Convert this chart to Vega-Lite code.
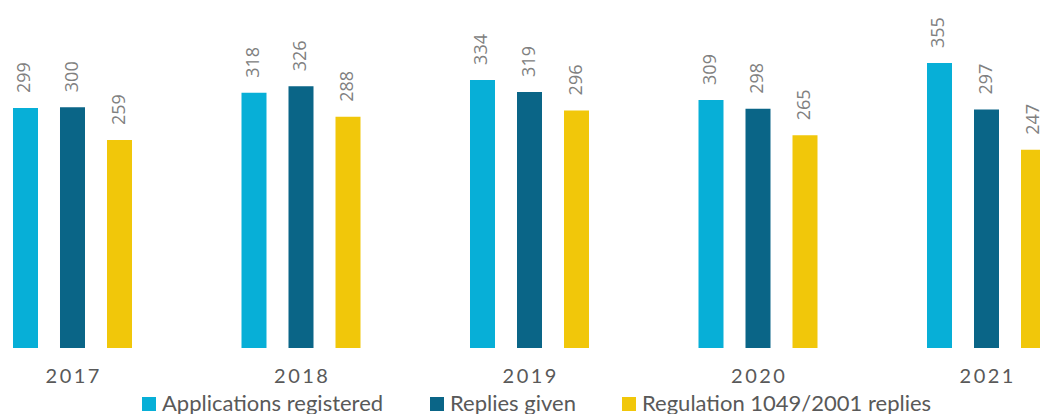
{
  "$schema": "https://vega.github.io/schema/vega-lite/v6.json",
  "width": 1040,
  "height": 348,
  "autosize": {"type": "none"},
  "padding": {"left": 0, "top": 0, "right": 0, "bottom": 66},
  "background": "white",
  "config": {"view": {"stroke": null}},
  "data": {
    "values": [
      {"year": "2017", "series": "Applications registered", "value": 299},
      {"year": "2017", "series": "Replies given", "value": 300},
      {"year": "2017", "series": "Regulation 1049/2001 replies", "value": 259},
      {"year": "2018", "series": "Applications registered", "value": 318},
      {"year": "2018", "series": "Replies given", "value": 326},
      {"year": "2018", "series": "Regulation 1049/2001 replies", "value": 288},
      {"year": "2019", "series": "Applications registered", "value": 334},
      {"year": "2019", "series": "Replies given", "value": 319},
      {"year": "2019", "series": "Regulation 1049/2001 replies", "value": 296},
      {"year": "2020", "series": "Applications registered", "value": 309},
      {"year": "2020", "series": "Replies given", "value": 298},
      {"year": "2020", "series": "Regulation 1049/2001 replies", "value": 265},
      {"year": "2021", "series": "Applications registered", "value": 355},
      {"year": "2021", "series": "Replies given", "value": 297},
      {"year": "2021", "series": "Regulation 1049/2001 replies", "value": 247}
    ]
  },
  "encoding": {
    "x": {
      "field": "year",
      "type": "nominal",
      "scale": {"range": [-41.75, 1100.75], "paddingInner": 0.4792, "paddingOuter": 0.2396},
      "axis": {
        "title": null,
        "domain": false,
        "ticks": false,
        "tickSize": 0,
        "labelAngle": 0,
        "labelFont": "Lato",
        "labelFontSize": 20,
        "labelColor": "#595959",
        "labelPadding": 34,
        "labelBaseline": "alphabetic",
        "labelExpr": "join(split(datum.label, ''), '\u2009')"
      }
    },
    "xOffset": {
      "field": "series",
      "type": "nominal",
      "scale": {
        "domain": ["Applications registered", "Replies given", "Regulation 1049/2001 replies"],
        "paddingInner": 0.4681,
        "paddingOuter": 0
      }
    },
    "y": {
      "field": "value",
      "type": "quantitative",
      "scale": {"domain": [0, 433.5], "nice": false, "zero": true},
      "axis": null
    }
  },
  "layer": [
    {
      "mark": {"type": "bar"},
      "encoding": {
        "color": {
          "field": "series",
          "type": "nominal",
          "scale": {
            "domain": ["Applications registered", "Replies given", "Regulation 1049/2001 replies"],
            "range": ["#07AFD7", "#0A6587", "#F1C70A"]
          },
          "legend": {
            "orient": "none",
            "legendX": 138,
            "legendY": 393,
            "direction": "horizontal",
            "title": null,
            "symbolType": "square",
            "symbolSize": 196,
            "symbolStrokeWidth": 0,
            "symbolOpacity": 1,
            "labelFont": "Lato",
            "labelFontSize": 22,
            "labelColor": "#595959",
            "labelLimit": 400,
            "labelOffset": 2,
            "columnPadding": 42,
            "padding": 0
          }
        }
      }
    },
    {
      "mark": {
        "type": "text",
        "angle": 270,
        "align": "left",
        "baseline": "middle",
        "dx": 15,
        "font": "Open Sans",
        "fontSize": 18,
        "color": "#808080"
      },
      "encoding": {"text": {"field": "value", "type": "quantitative"}}
    }
  ]
}
